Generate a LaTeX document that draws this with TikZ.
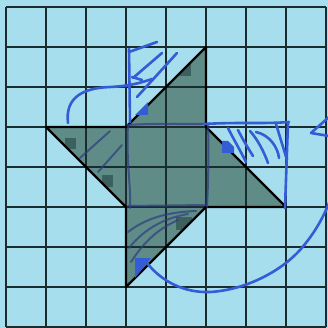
\documentclass[tikz,border=0pt]{standalone}
\definecolor{bg}{RGB}{166,222,238}
\definecolor{gridc}{RGB}{26,44,48}
\definecolor{shapec}{RGB}{96,140,136}
\definecolor{markc}{RGB}{60,96,94}
\definecolor{pen}{RGB}{52,92,212}
\definecolor{navy}{RGB}{45,62,125}
\begin{document}
\begin{tikzpicture}[x=1pt,y=-1pt,
  gridline/.style={gridc,line width=1.5pt},
  outline/.style={black,line width=2.4pt,line join=round},
  penline/.style={pen,line width=2.6pt,line cap=round,line join=round},
  navyline/.style={navy,line width=2pt,line cap=round,opacity=0.7}]
\fill[bg] (0,0) rectangle (328,328);
\useasboundingbox (0,0) rectangle (328,328);
\coordinate (L) at (46,127);
\coordinate (A) at (126,127);
\coordinate (T) at (206,47);
\coordinate (B) at (206,127);
\coordinate (R) at (286,207);
\coordinate (C) at (206,207);
\coordinate (D) at (126,287);
\coordinate (E) at (126,207);
% dark shape
\fill[shapec] (L) -- (A) -- (T) -- (B) -- (R) -- (C) -- (D) -- (E) -- cycle;
\begin{scope}
  \clip (L) -- (A) -- (T) -- (B) -- (R) -- (C) -- (D) -- (E) -- cycle;
  \fill[markc] (178,63) rectangle (191,76);
  \fill[markc] (65,138) rectangle (76,149);
  \fill[markc] (102,175) rectangle (113,187);
  \fill[markc] (176,217) rectangle (192,230);
\end{scope}
% grid
\foreach \i in {0,...,8} {
  \draw[gridline] ({6+40*\i},7) -- ({6+40*\i},327);
  \draw[gridline] (6,{7+40*\i}) -- (326,{7+40*\i});
}
% outline
\draw[outline] (L) -- (A) -- (T) -- (B) -- (R) -- (C) -- (D) -- (E) -- cycle;
% navy strokes over the dark shape
\draw[navyline] (127,125) .. controls (160,123) and (190,124) .. (209,124);
\draw[navyline] (208,124) .. controls (209,160) and (208,185) .. (207,207);
\draw[navyline] (128,206) -- (206,205);
\draw[navyline] (128,125) .. controls (126,160) and (131,185) .. (130,208);
\draw[navyline] (110,131) -- (80,158);
\draw[navyline] (122,145) -- (98,172);
\draw[navyline] (128,232) .. controls (150,215) and (175,212) .. (196,211);
\draw[navyline] (129,248) .. controls (145,228) and (165,218) .. (188,214);
\draw[navyline] (131,262) .. controls (145,240) and (160,228) .. (178,220);
% blue pen: top light triangle
\draw[penline] (129,49) -- (130,122);
\draw[penline] (129,52) -- (157,42);
\draw[penline] (133,78) -- (162,53);
\draw[penline] (137,97) -- (177,53);
\draw[penline] (132,77) -- (142,80);
\fill[pen] (148,102) -- (148,115) -- (135,115) -- cycle;
% left arc
\draw[penline] (68,123) .. controls (65,98) and (82,88) .. (110,87) .. controls (130,86) and (140,83) .. (152,79);
% right hatched triangle
\draw[penline] (204,124) .. controls (240,122) and (265,124) .. (289,122);
\draw[penline] (288,123) .. controls (287,150) and (286,180) .. (285,208);
\draw[penline] (228,128) .. controls (234,140) and (240,150) .. (246,162);
\draw[penline] (238,130) .. controls (243,140) and (248,148) .. (253,156);
\draw[penline] (250,131) .. controls (258,140) and (264,152) .. (268,163);
\draw[penline] (256,132) .. controls (270,135) and (278,148) .. (279,158);
\draw[penline] (276,124) -- (287,160);
\fill[pen] (222,141) -- (228,141) -- (234,147) -- (234,153) -- (222,153) -- cycle;
% bottom arc
\draw[penline] (147,263) .. controls (162,282) and (185,293) .. (210,292) .. controls (245,290) and (280,272) .. (300,250) .. controls (315,233) and (325,215) .. (332,195);
\fill[pen] (135,258) -- (151,258) -- (135,278) -- cycle;
% right edge arrowhead
\draw[penline] (329,117) -- (311,133) -- (329,136);
\end{tikzpicture}
\end{document}
